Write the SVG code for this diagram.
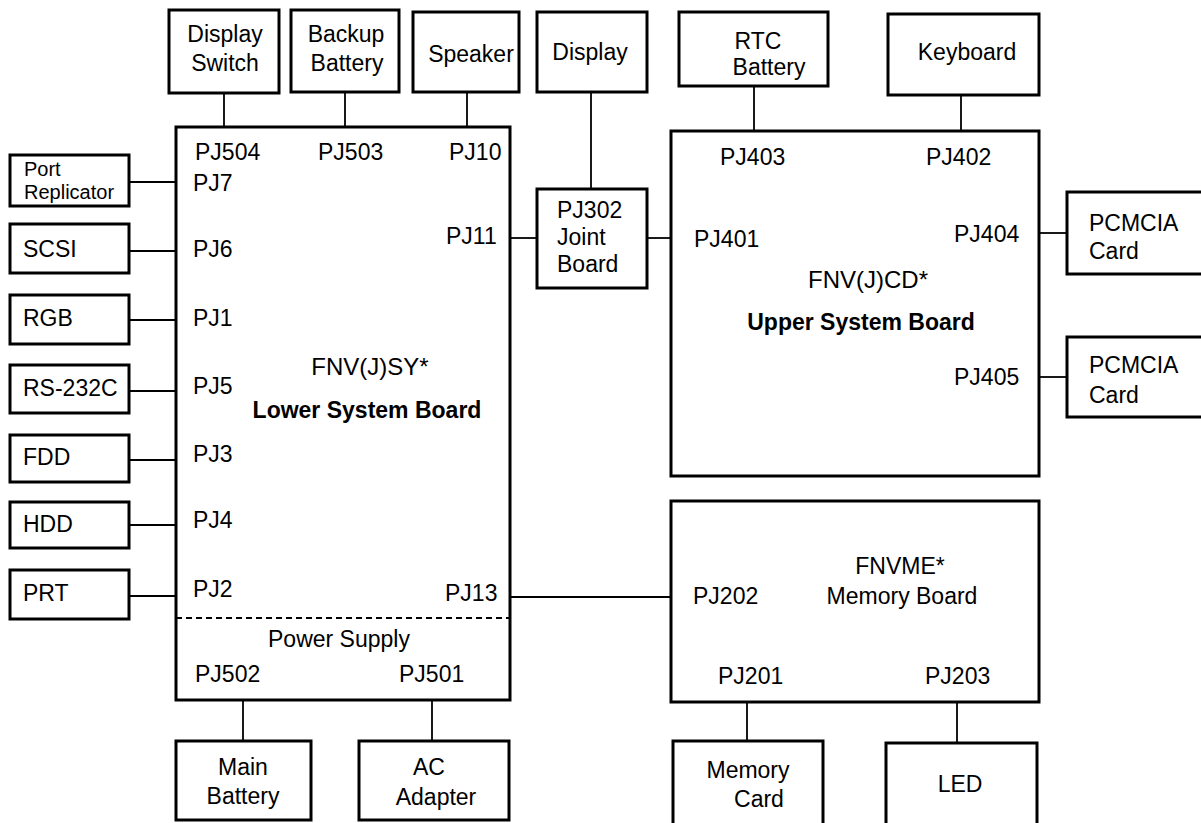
<svg xmlns="http://www.w3.org/2000/svg" width="1201" height="823" viewBox="0 0 1201 823">
<style>
.box{fill:none;stroke:#000;stroke-width:3}
.ln{stroke:#000;stroke-width:1.8;fill:none}
.dash{stroke:#000;stroke-width:2.2;stroke-dasharray:6 4;fill:none}
text{font-family:"Liberation Sans",Arial,Helvetica,sans-serif;font-size:23px;fill:#000}
.m{text-anchor:middle}
.sm{font-size:20px}
.big{font-size:24px}
.b{font-weight:bold}
</style>
<rect width="1201" height="823" fill="#fff"/>
<g id="connectors">
<line class="ln" x1="224" y1="93" x2="224" y2="127"/>
<line class="ln" x1="345" y1="92" x2="345" y2="127"/>
<line class="ln" x1="467" y1="92" x2="467" y2="127"/>
<line class="ln" x1="591" y1="92" x2="591" y2="189"/>
<line class="ln" x1="754" y1="86" x2="754" y2="131"/>
<line class="ln" x1="961" y1="95" x2="961" y2="131"/>
<line class="ln" x1="510" y1="238" x2="537" y2="238"/>
<line class="ln" x1="647" y1="238" x2="671" y2="238"/>
<line class="ln" x1="1039" y1="233" x2="1067" y2="233"/>
<line class="ln" x1="1039" y1="377" x2="1067" y2="377"/>
<line class="ln" x1="510" y1="597" x2="671" y2="597"/>
<line class="ln" x1="747" y1="702" x2="747" y2="741"/>
<line class="ln" x1="957" y1="702" x2="957" y2="743"/>
<line class="ln" x1="243" y1="700" x2="243" y2="741"/>
<line class="ln" x1="432" y1="700" x2="432" y2="741"/>
<line class="ln" x1="129" y1="182" x2="176" y2="182"/>
<line class="ln" x1="129" y1="251" x2="176" y2="251"/>
<line class="ln" x1="129" y1="320" x2="176" y2="320"/>
<line class="ln" x1="129" y1="391" x2="176" y2="391"/>
<line class="ln" x1="129" y1="460" x2="176" y2="460"/>
<line class="ln" x1="129" y1="525" x2="176" y2="525"/>
<line class="ln" x1="129" y1="596" x2="176" y2="596"/>
</g>
<g id="lower-system-board">
<rect class="box" x="176" y="127" width="334" height="573"/>
<line class="dash" x1="176" y1="618" x2="510" y2="618"/>
<text x="195" y="160">PJ504</text>
<text x="318" y="160">PJ503</text>
<text x="449" y="160">PJ10</text>
<text x="193" y="191">PJ7</text>
<text x="193" y="257">PJ6</text>
<text x="193" y="326">PJ1</text>
<text x="193" y="394">PJ5</text>
<text x="193" y="462">PJ3</text>
<text x="193" y="528">PJ4</text>
<text x="193" y="597">PJ2</text>
<text x="446" y="244">PJ11</text>
<text x="445" y="601">PJ13</text>
<text class="m big" x="370" y="375">FNV(J)SY*</text>
<text class="m b" x="367" y="418">Lower System Board</text>
<text class="m" x="339" y="647">Power Supply</text>
<text x="195" y="682">PJ502</text>
<text x="399" y="682">PJ501</text>
</g>
<g id="display-switch">
<rect class="box" x="169" y="10" width="110" height="83"/>
<text class="m" x="225" y="42">Display</text>
<text class="m" x="225" y="71">Switch</text>
</g>
<g id="backup-battery">
<rect class="box" x="291" y="10" width="108" height="82"/>
<text class="m" x="346" y="42">Backup</text>
<text class="m" x="347" y="71">Battery</text>
</g>
<g id="speaker">
<rect class="box" x="413" y="12" width="106" height="80"/>
<text class="m" x="471" y="62">Speaker</text>
</g>
<g id="display">
<rect class="box" x="537" y="12" width="110" height="80"/>
<text class="m" x="590" y="60">Display</text>
</g>
<g id="rtc-battery">
<rect class="box" x="679" y="12" width="149" height="74"/>
<text class="m" x="758" y="49">RTC</text>
<text class="m" x="769" y="75">Battery</text>
</g>
<g id="keyboard">
<rect class="box" x="888" y="14" width="151" height="81"/>
<text class="m" x="967" y="60">Keyboard</text>
</g>
<g id="joint-board">
<rect class="box" x="537" y="189" width="110" height="99"/>
<text x="557" y="218">PJ302</text>
<text x="557" y="245">Joint</text>
<text x="557" y="272">Board</text>
</g>
<g id="upper-system-board">
<rect class="box" x="671" y="131" width="368" height="345"/>
<text x="720" y="165">PJ403</text>
<text x="926" y="165">PJ402</text>
<text x="694" y="247">PJ401</text>
<text x="954" y="242">PJ404</text>
<text x="954" y="385">PJ405</text>
<text class="m big" x="868" y="288">FNV(J)CD*</text>
<text class="m b" x="861" y="330">Upper System Board</text>
</g>
<g id="pcmcia-card-1">
<rect class="box" x="1067" y="192" width="140" height="82"/>
<text x="1089" y="231">PCMCIA</text>
<text x="1089" y="259">Card</text>
</g>
<g id="pcmcia-card-2">
<rect class="box" x="1067" y="337" width="140" height="80"/>
<text x="1089" y="373">PCMCIA</text>
<text x="1089" y="403">Card</text>
</g>
<g id="memory-board">
<rect class="box" x="671" y="501" width="368" height="201"/>
<text x="693" y="604">PJ202</text>
<text class="m" x="900" y="574">FNVME*</text>
<text class="m" x="902" y="604">Memory Board</text>
<text x="718" y="684">PJ201</text>
<text x="925" y="684">PJ203</text>
</g>
<g id="memory-card">
<rect class="box" x="673" y="741" width="150" height="85"/>
<text class="m" x="748" y="778">Memory</text>
<text class="m" x="759" y="807">Card</text>
</g>
<g id="led">
<rect class="box" x="886" y="743" width="151" height="83"/>
<text class="m" x="960" y="792">LED</text>
</g>
<g id="main-battery">
<rect class="box" x="176" y="741" width="135" height="79"/>
<text class="m" x="243" y="775">Main</text>
<text class="m" x="243" y="804">Battery</text>
</g>
<g id="ac-adapter">
<rect class="box" x="359" y="741" width="150" height="79"/>
<text class="m" x="429" y="775">AC</text>
<text class="m" x="436" y="805">Adapter</text>
</g>
<g id="port-replicator">
<rect class="box" x="10" y="155" width="119" height="51"/>
<text class="sm" x="24" y="176">Port</text>
<text class="sm" x="24" y="199">Replicator</text>
</g>
<g id="scsi">
<rect class="box" x="10" y="224" width="119" height="49"/>
<text x="23" y="257">SCSI</text>
</g>
<g id="rgb">
<rect class="box" x="10" y="295" width="119" height="49"/>
<text x="23" y="326">RGB</text>
</g>
<g id="rs-232c">
<rect class="box" x="10" y="365" width="119" height="48"/>
<text x="23" y="396">RS-232C</text>
</g>
<g id="fdd">
<rect class="box" x="10" y="435" width="119" height="47"/>
<text x="23" y="465">FDD</text>
</g>
<g id="hdd">
<rect class="box" x="10" y="502" width="119" height="46"/>
<text x="23" y="532">HDD</text>
</g>
<g id="prt">
<rect class="box" x="10" y="570" width="119" height="49"/>
<text x="23" y="601">PRT</text>
</g>
</svg>
